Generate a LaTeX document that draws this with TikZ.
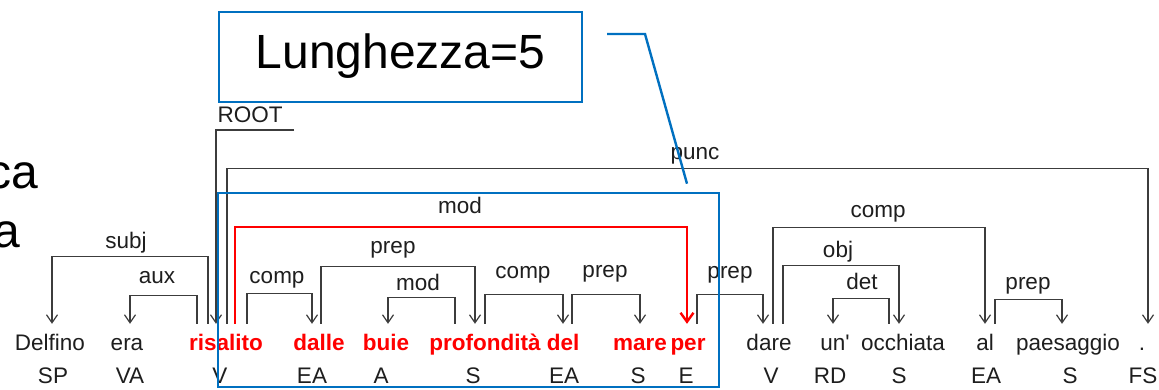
\documentclass[tikz,border=0pt]{standalone}
\usepackage{fontspec}
\newfontfamily\arial{Liberation Sans}
\usetikzlibrary{arrows.meta}
\definecolor{boxblue}{RGB}{0,112,192}
\definecolor{linec}{RGB}{60,60,60}
\definecolor{wordc}{RGB}{30,30,30}
\newcommand\wf{\arial\fontsize{22.5pt}{27pt}\selectfont}
\newcommand\bigf{\arial\fontsize{48pt}{56pt}\selectfont}
\tikzset{
  wordn/.style={font=\wf, text=wordc, inner sep=0pt, text height=26pt, text depth=6pt, anchor=base},
  redw/.style={wordn, font=\wf\bfseries, text=red},
  posn/.style={font=\wf, text=wordc, inner sep=0pt, anchor=base},
  labn/.style={font=\wf, text=wordc, inner sep=0pt, anchor=base},
  dep/.style={draw=linec, line width=1.2pt, -{Straight Barb[length=8pt,width=11pt]}},
  reddep/.style={draw=red, line width=2.4pt, -{Straight Barb[length=9pt,width=13pt]}},
  bluebox/.style={draw=boxblue, line width=2.6pt, inner sep=0pt},
  blueline/.style={draw=boxblue, line width=2.4pt},
}
\begin{document}
\begin{tikzpicture}[x=1pt,y=-1pt]
\useasboundingbox (0,0) rectangle (1159,389);
\fill[white] (0,0) rectangle (1159,389);
% cut-off slide text at the left
\begin{scope}
\clip (0,0) rectangle (1159,389);
\node[anchor=base east, font=\bigf, inner sep=0pt] (ca) at (38,188) {ca};
\node[anchor=base east, font=\bigf, inner sep=0pt] (aa) at (20,247) {a};
\end{scope}
% words
\node[wordn] (w1) at (50,350) {Delfino};
\node[wordn] (w2) at (127,350) {era};
\node[redw] (w3) at (226,350) {risalito};
\node[redw] (w4) at (319,350) {dalle};
\node[redw] (w5) at (386,350) {buie};
\node[redw] (w6) at (485,350) {profondità};
\node[redw] (w7) at (563,350) {del};
\node[redw] (w8) at (640,350) {mare};
\node[redw] (w9) at (688,350) {per};
\node[wordn] (w10) at (769,350) {dare};
\node[wordn] (w11) at (835,350) {un'};
\node[wordn] (w12) at (903,350) {occhiata};
\node[wordn] (w13) at (985,350) {al};
\node[wordn] (w14) at (1068,350) {paesaggio};
\node[wordn] (w15) at (1142,350) {.};
% POS tags
\node[posn] (p1) at (53,383) {SP};
\node[posn] (p2) at (130,383) {VA};
\node[posn] (p3) at (220,383) {V};
\node[posn] (p4) at (312,383) {EA};
\node[posn] (p5) at (381,383) {A};
\node[posn] (p6) at (473,383) {S};
\node[posn] (p7) at (564,383) {EA};
\node[posn] (p8) at (638,383) {S};
\node[posn] (p9) at (686,383) {E};
\node[posn] (p10) at (771,383) {V};
\node[posn] (p11) at (830,383) {RD};
\node[posn] (p12) at (899,383) {S};
\node[posn] (p13) at (986,383) {EA};
\node[posn] (p14) at (1070,383) {S};
\node[posn] (p15) at (1143,383) {FS};
% ROOT
\coordinate (rootend) at (294,130);
\draw[dep] (rootend) -| ([xshift=-10pt]w3.north);
\node[labn] (lroot) at (250,122) {ROOT};
% dependency arcs
\draw[dep] ([xshift=-18pt]w3.north) -- ++(0,-67) -| ([xshift=2pt]w1.north);
\node[labn] (l1) at (126,248) {subj};
\draw[dep] ([xshift=-29pt]w3.north) -- ++(0,-28) -| ([xshift=3pt]w2.north);
\node[labn] (l2) at (157,283) {aux};
\draw[dep] ([xshift=1pt]w3.north) -- ++(0,-155) -| ([xshift=6pt]w15.north);
\node[labn] (l3) at (695,159) {punc};
\draw[reddep] ([xshift=9pt]w3.north) -- ++(0,-97) -| ([xshift=-1pt]w9.north);
\node[labn] (l4) at (460,213) {mod};
\draw[dep] ([xshift=21pt]w3.north) -- ++(0,-30) -| ([xshift=-7pt]w4.north);
\node[labn] (l5) at (277,283) {comp};
\draw[dep] ([xshift=2pt]w4.north) -- ++(0,-57) -| ([xshift=-10pt]w6.north);
\node[labn] (l6) at (393,253) {prep};
\draw[dep] ([xshift=-30pt]w6.north) -- ++(0,-26) -| ([xshift=2pt]w5.north);
\node[labn] (l7) at (418,290) {mod};
\draw[dep] ([xshift=0pt]w6.north) -- ++(0,-29) -| ([xshift=0pt]w7.north);
\node[labn] (l8) at (523,278) {comp};
\draw[dep] ([xshift=9pt]w7.north) -- ++(0,-29) -| ([xshift=0pt]w8.north);
\node[labn] (l9) at (605,277) {prep};
\draw[dep] ([xshift=9pt]w9.north) -- ++(0,-29) -| ([xshift=-6pt]w10.north);
\node[labn] (l10) at (730,278) {prep};
\draw[dep] ([xshift=4pt]w10.north) -- ++(0,-96) -| ([xshift=0pt]w13.north);
\node[labn] (l11) at (878,217) {comp};
\draw[dep] ([xshift=14pt]w10.north) -- ++(0,-58) -| ([xshift=-4pt]w12.north);
\node[labn] (l12) at (838,257) {obj};
\draw[dep] ([xshift=-14pt]w12.north) -- ++(0,-25) -| ([xshift=-2pt]w11.north);
\node[labn] (l13) at (862,289) {det};
\draw[dep] ([xshift=10pt]w13.north) -- ++(0,-24) -| ([xshift=-6pt]w14.north);
\node[labn] (l14) at (1028,289) {prep};
% blue boxes and callout
\node[bluebox, minimum width=501pt, minimum height=194pt] (bigbox) at (468.5,290) {};
\node[bluebox, minimum width=363pt, minimum height=90pt] (lbox) at (400.5,57) {};
\node[anchor=base, font=\bigf, inner sep=0pt] (ltxt) at (400.5,68) {Lunghezza=5};
\coordinate (c1) at (607,34);
\draw[blueline] (c1) -- (645,34) -- ([xshift=218.5pt,yshift=8pt]bigbox.north);
\end{tikzpicture}
\end{document}
